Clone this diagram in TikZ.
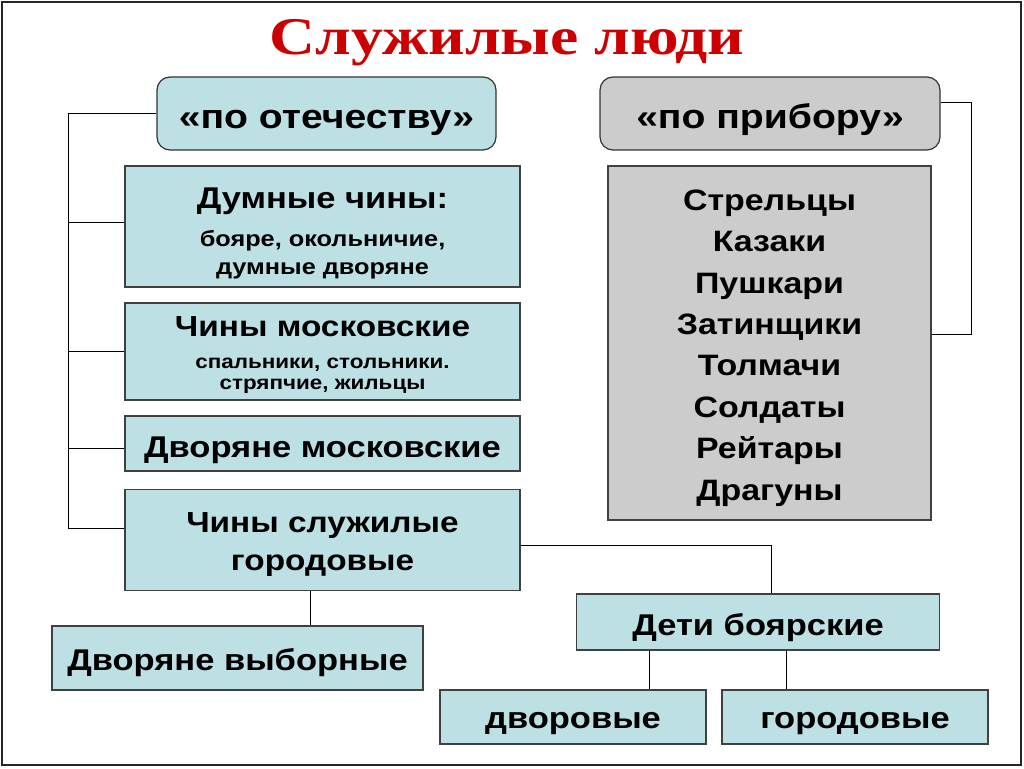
\documentclass[tikz,border=0pt]{standalone}
\usepackage{fontspec}
\setmainfont[FakeStretch=1.15]{Liberation Sans}
\newfontfamily\titlefont[FakeStretch=1.2]{Liberation Serif}
\usepackage{xcolor}
\usetikzlibrary{positioning}
\definecolor{rankblue}{RGB}{189,224,228}
\definecolor{rankgray}{RGB}{204,204,204}
\definecolor{titlered}{RGB}{204,0,0}
\tikzset{link/.style = {draw=black,line width=0.9pt}}

\begin{document}
\begin{tikzpicture}[x=1pt,y=-1pt,
    head node/.style={rectangle,rounded corners=13pt,draw=black!80,line width=1.2pt,align=center,inner sep=0pt,font=\bfseries\fontsize{34}{40}\selectfont},
    rank node/.style={rectangle,draw=black!75,line width=1.2pt,fill=rankblue,align=center,inner sep=0pt,font=\bfseries\fontsize{30}{36}\selectfont}]
    \useasboundingbox (0,0) rectangle (1024,768);
    \draw[line width=2pt,black!85] (2,2) rectangle (1021,765);

    \node[anchor=base,text=titlered,font=\titlefont\bfseries\fontsize{53}{60}\selectfont] (title) at (507,55) {Служилые люди};

    \node[head node,fill=rankblue,minimum width=339pt,minimum height=73pt,text height=29pt,text depth=0pt] (otech) at (326.5,113.5) {«по отечеству»};
    \node[head node,fill=rankgray,minimum width=340pt,minimum height=73pt,text height=29pt,text depth=0pt] (pribor) at (770,113.5) {«по прибору»};

    \node[rank node,minimum width=395pt,minimum height=121pt,text height=95pt,text depth=0pt] (dumnye) at (322.5,226.5)
        {Думные чины:\\[2pt]\fontsize{22}{27}\selectfont бояре, окольничие,\\[-8pt]\fontsize{22}{27}\selectfont думные дворяне};
    \node[rank node,minimum width=395pt,minimum height=97pt,font=\bfseries\fontsize{29}{36}\selectfont,text height=75pt,text depth=0pt] (moskchiny) at (322.5,351.5)
        {Чины московские\\[-4pt]\fontsize{19.5}{20}\selectfont спальники, стольники.\\[-15pt]\fontsize{19.5}{20}\selectfont стряпчие, жильцы};
    \node[rank node,minimum width=395pt,minimum height=55pt,text height=27pt,text depth=0pt] (moskdvor) at (322.5,443.5) {Дворяне московские};
    \node[rank node,minimum width=395pt,minimum height=101pt,font=\bfseries\fontsize{29}{38}\selectfont,text height=60pt,text depth=0pt] (gorodchiny) at (322.5,540) {Чины служилые\\городовые};

    \node[rank node,fill=rankgray,minimum width=323pt,minimum height=354pt,font=\bfseries\fontsize{29.5}{41.4}\selectfont,text height=314pt,text depth=0pt] (spisok) at (769.5,343)
        {Стрельцы\\Казаки\\Пушкари\\Затинщики\\Толмачи\\Солдаты\\Рейтары\\Драгуны};

    \node[rank node,minimum width=371pt,minimum height=64pt,text height=24pt,text depth=0pt] (vybor) at (237.5,658) {Дворяне выборные};
    \node[rank node,minimum width=363pt,minimum height=56pt,text height=26pt,text depth=0pt] (deti) at (758,622) {Дети боярские};
    \node[rank node,minimum width=266pt,minimum height=54pt,text height=22pt,text depth=0pt] (dvorovye) at (573,717) {дворовые};
    \node[rank node,minimum width=266pt,minimum height=54pt,text height=22pt,text depth=0pt] (gorodovye) at (855,717) {городовые};

    % left trunk
    \coordinate (trunk) at (68,0);
    \path[link] (otech.west) -- (otech.west -| trunk) -- ([yshift=12pt]gorodchiny.west -| trunk) -- ([yshift=12pt]gorodchiny.west);
    \path[link] ([yshift=4pt]dumnye.west -| trunk) -- ([yshift=4pt]dumnye.west);
    \path[link] (moskchiny.west -| trunk) -- (moskchiny.west);
    \path[link] ([yshift=-4.5pt]moskdvor.west -| trunk) -- ([yshift=-4.5pt]moskdvor.west);

    % right side
    \path[link] ([yshift=11.5pt]pribor.east) -- ++(31,0) |- ([yshift=9pt]spisok.east);

    % lower branches
    \path[link] ([xshift=-12pt]gorodchiny.south) coordinate (v1) -- (v1 |- vybor.north);
    \path[link] ([yshift=-5pt]gorodchiny.east) -| ([xshift=13pt]deti.north);
    \path[link] ([xshift=-109pt]deti.south) coordinate (v2) -- (v2 |- dvorovye.north);
    \path[link] ([xshift=28pt]deti.south) coordinate (v3) -- (v3 |- gorodovye.north);
\end{tikzpicture}
\end{document}
